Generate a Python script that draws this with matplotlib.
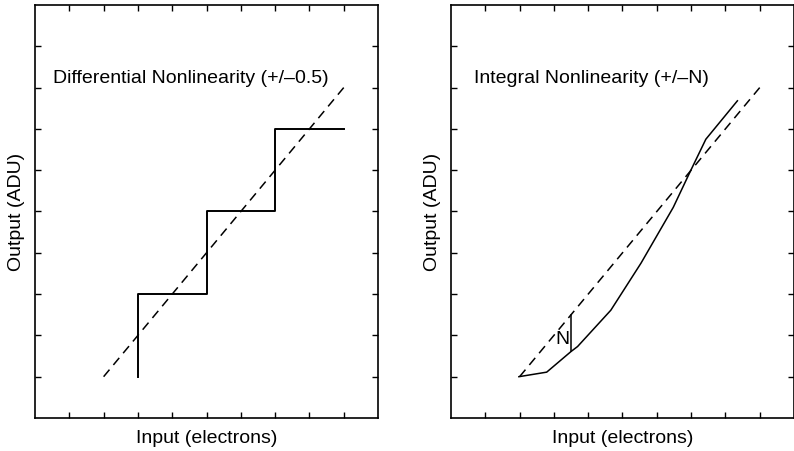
import matplotlib.pyplot as plt

plt.rcParams['font.family'] = ['Liberation Sans', 'DejaVu Sans']

# staircase transfer (DNL) and the ideal line
step_x = [3, 3, 5, 5, 7, 7, 9]
step_y = [1, 3, 3, 5, 5, 7, 7]
ideal_x = [2, 9]
ideal_y = [1, 8]

# bent transfer curve (INL)
inl_x = [1.98, 2.79, 3.50, 3.69, 4.66, 5.54, 6.48, 6.97, 7.43, 8.35]
inl_y = [1.00, 1.11, 1.61, 1.73, 2.61, 3.75, 5.10, 5.96, 6.75, 7.68]

# the N gap marker
n_x = [3.5, 3.5]
n_y = [1.61, 2.5]


def basic_plot_config(ax):
    ax.set_xlim(0, 10)
    ax.set_ylim(0, 10)
    ax.set_xticks(range(1, 10))
    ax.set_yticks(range(1, 10))
    ax.tick_params(direction='in', length=4, width=1, top=True, right=True,
                   labelbottom=False, labelleft=False)
    for s in ax.spines.values():
        s.set_linewidth(1.2)
    ax.set_xlabel('Input (electrons)', fontsize=14, labelpad=9)
    ax.set_ylabel('Output (ADU)', fontsize=14, labelpad=7)
    return ax


fig = plt.figure(figsize=(7.94, 4.51), dpi=100)
ax1 = fig.add_axes([0.0441, 0.0732, 0.432, 0.9157])
ax2 = fig.add_axes([0.568, 0.0732, 0.432, 0.9157])

basic_plot_config(ax1)
ax1.plot(step_x, step_y, color='black', lw=1.4)
ax1.plot(ideal_x, ideal_y, color='black', lw=1.1, ls=(0, (6, 4)))
ax1.text(0.53, 8.23, 'Differential Nonlinearity (+/\u20130.5)', fontsize=14, va='center')

basic_plot_config(ax2)
ax2.plot(inl_x, inl_y, color='black', lw=1.1)
ax2.plot(ideal_x, ideal_y, color='black', lw=1.1, ls=(0, (6, 4)))
ax2.plot(n_x, n_y, color='black', lw=1.1)
ax2.text(3.46, 1.89, 'N', fontsize=14, ha='right', va='center')
ax2.text(0.67, 8.23, 'Integral Nonlinearity (+/\u2013N)', fontsize=14, va='center')

fig.savefig('out.png', dpi=100)
